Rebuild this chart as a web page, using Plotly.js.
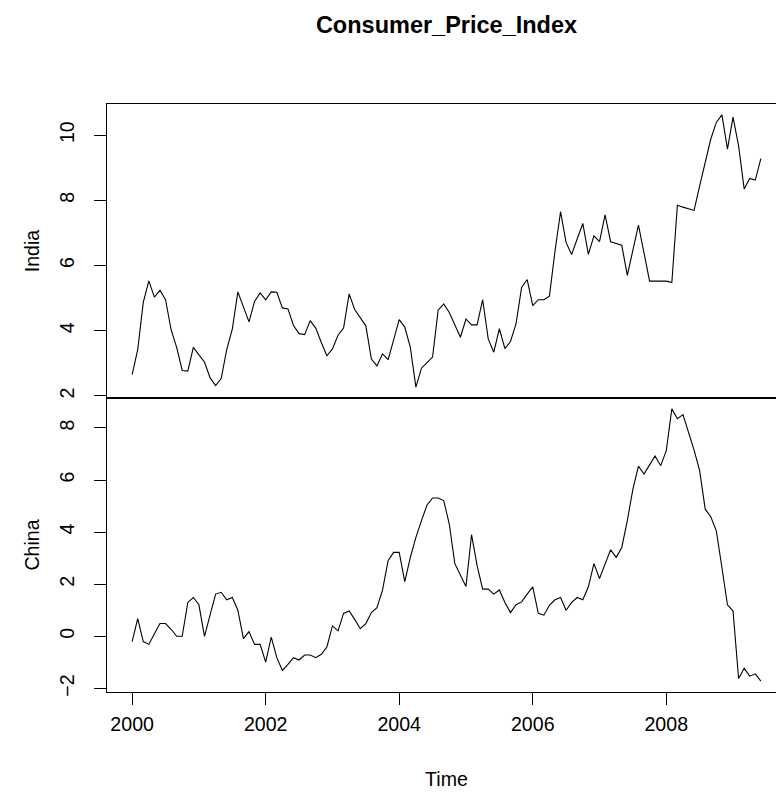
<!DOCTYPE html>
<html>
<head>
<meta charset="utf-8">
<script src="https://cdn.plot.ly/plotly-3.0.1.min.js"></script>
<style>
html, body { margin: 0; padding: 0; overflow: hidden; background: #fff; }
#wrap { width: 776px; height: 793px; overflow: hidden; }
#chart { width: 800px; height: 793px; }
</style>
</head>
<body>
<div id="wrap"><div id="chart"></div></div>
<script>
// Monthly series, start Jan 2000, frequency 12
const startYear = 2000;
const frequency = 12;
const chartTitle = "Consumer_Price_Index";
const seriesNames = ["India", "China"];
const xTitle = "Time";

const india = [2.65, 3.42, 4.87, 5.53, 5.03, 5.24, 4.95, 4.03, 3.49, 2.78, 2.76, 3.49,
  3.26, 3.04, 2.56, 2.32, 2.53, 3.42, 4.05, 5.19, 4.73, 4.27, 4.90, 5.16,
  4.95, 5.19, 5.18, 4.70, 4.67, 4.16, 3.91, 3.88, 4.31, 4.08, 3.64, 3.23,
  3.44, 3.86, 4.08, 5.13, 4.65, 4.39, 4.15, 3.13, 2.92, 3.29, 3.11, 3.72,
  4.34, 4.11, 3.49, 2.27, 2.85, 3.02, 3.19, 4.63, 4.82, 4.56, 4.18, 3.80,
  4.36, 4.18, 4.18, 4.95, 3.75, 3.34, 4.06, 3.45, 3.67, 4.22, 5.33, 5.57,
  4.77, 4.95, 4.95, 5.06, 6.44, 7.65, 6.70, 6.34, 6.82, 7.29, 6.34, 6.91,
  6.73, 7.55, 6.73, 6.68, 6.62, 5.70, 6.49, 7.24, 6.39, 5.52, 5.52, 5.52,
  5.52, 5.48, 7.85, 7.79, 7.74, 7.69, 8.44, 9.16, 9.88, 10.39, 10.62, 9.57,
  10.55, 9.67, 8.35, 8.67, 8.62, 9.28];

const china = [-0.20, 0.68, -0.20, -0.31, 0.10, 0.49, 0.49, 0.27, 0.00, 0.00, 1.30, 1.49,
  1.21, 0.00, 0.81, 1.62, 1.69, 1.40, 1.49, 1.00, -0.09, 0.18, -0.31, -0.31,
  -0.99, -0.03, -0.82, -1.31, -1.08, -0.82, -0.91, -0.72, -0.72, -0.82, -0.69, -0.41,
  0.40, 0.21, 0.88, 0.97, 0.65, 0.29, 0.49, 0.91, 1.10, 1.77, 2.90, 3.22,
  3.22, 2.10, 3.03, 3.80, 4.44, 5.04, 5.31, 5.31, 5.21, 4.31, 2.79, 2.38,
  1.91, 3.90, 2.71, 1.81, 1.81, 1.62, 1.78, 1.30, 0.91, 1.21, 1.32, 1.62,
  1.90, 0.88, 0.81, 1.19, 1.40, 1.49, 1.00, 1.30, 1.49, 1.40, 1.90, 2.79,
  2.22, 2.77, 3.32, 3.03, 3.41, 4.44, 5.65, 6.53, 6.23, 6.58, 6.92, 6.55,
  7.13, 8.73, 8.35, 8.51, 7.83, 7.15, 6.36, 4.88, 4.59, 4.05, 2.64, 1.21,
  0.97, -1.62, -1.23, -1.53, -1.44, -1.72];

const xTicks = [2000, 2002, 2004, 2006, 2008];
const indiaTicks = [2, 4, 6, 8, 10];
const chinaTicks = [-2, 0, 2, 4, 6, 8];

const time = india.map((_, i) => startYear + i / frequency);

function rRange(arr) {
  const mn = Math.min(...arr), mx = Math.max(...arr);
  const d = (mx - mn) * 0.04;
  return [mn - d, mx + d];
}

const FONT = "Liberation Sans, Arial, Helvetica, sans-serif";
const fs = 19.6;

const traces = [
  { x: time, y: india, type: "scatter", mode: "lines", xaxis: "x2", yaxis: "y2",
    line: { color: "#000", width: 1.1 }, name: seriesNames[0], hoverinfo: "x+y" },
  { x: time, y: china, type: "scatter", mode: "lines", xaxis: "x", yaxis: "y",
    line: { color: "#000", width: 1.1 }, name: seriesNames[1], hoverinfo: "x+y" }
];

const axisCommon = {
  showline: true, linecolor: "#000", linewidth: 1, mirror: true,
  showgrid: false, zeroline: false,
  tickfont: { family: FONT, size: fs, color: "#000" },
  ticks: "outside", ticklen: 12, tickcolor: "#000", tickwidth: 1
};

const layout = {
  width: 800, height: 793,
  margin: { l: 107, r: 14, t: 104, b: 101 },
  paper_bgcolor: "#fff", plot_bgcolor: "#fff",
  showlegend: false,
  font: { family: FONT, size: fs, color: "#000" },
  title: { text: "<b>" + chartTitle + "</b>", font: { family: FONT, size: 23.5, color: "#000" },
    x: 0.5, xanchor: "center", xref: "paper", y: 1 - 25 / 793, yref: "container", yanchor: "middle" },
  xaxis: Object.assign({}, axisCommon, {
    domain: [0, 1], anchor: "y", range: rRange(time), tickvals: xTicks,
    ticktext: xTicks.map(String), ticklabelstandoff: 2,
    title: { text: xTitle, font: { family: FONT, size: fs }, standoff: 38 }
  }),
  yaxis: Object.assign({}, axisCommon, {
    domain: [0, 0.5], anchor: "x", range: rRange(china), tickvals: chinaTicks,
    ticktext: chinaTicks.map(v => v < 0 ? "\u2212" + Math.abs(v) : String(v)),
    tickangle: -90, ticklabelstandoff: 12,
    title: { text: seriesNames[1], font: { family: FONT, size: fs }, standoff: 11 }
  }),
  xaxis2: Object.assign({}, axisCommon, {
    domain: [0, 1], anchor: "y2", matches: "x", range: rRange(time),
    ticks: "", showticklabels: false
  }),
  yaxis2: Object.assign({}, axisCommon, {
    domain: [0.5, 1], anchor: "x2", range: rRange(india), tickvals: indiaTicks,
    ticktext: indiaTicks.map(String),
    tickangle: -90, ticklabelstandoff: 12,
    title: { text: seriesNames[0], font: { family: FONT, size: fs }, standoff: 11 }
  })
};

Plotly.newPlot("chart", traces, layout, { displayModeBar: false, staticPlot: true });
</script>
</body>
</html>
